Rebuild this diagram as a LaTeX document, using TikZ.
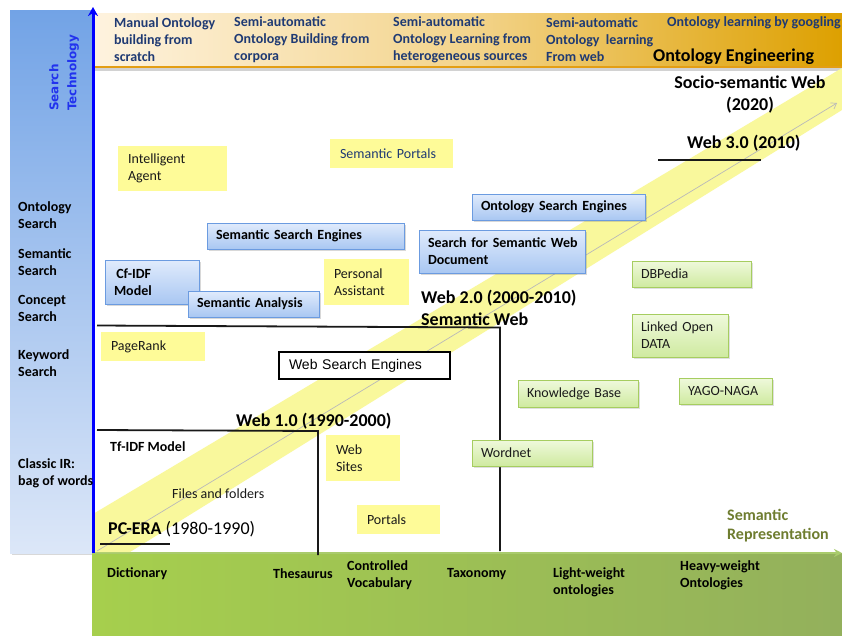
\documentclass[tikz,border=0pt]{standalone}
\usepackage{fontspec}
\setmainfont{Carlito}
\newfontfamily\arialf{Liberation Sans}
\newfontfamily\dejavuf{DejaVu Sans}
\usetikzlibrary{arrows.meta,shadows}

\definecolor{stickyY}{HTML}{FEFB98}
\definecolor{bandY}{HTML}{F9F89C}
\definecolor{navy}{HTML}{1F3A73}
\definecolor{olivec}{HTML}{6F7D30}
\definecolor{textgray}{HTML}{1A1A1A}
\definecolor{bTop}{HTML}{E0EBFC}
\definecolor{bBot}{HTML}{A9C7F2}
\definecolor{bBorder}{HTML}{6B9BE0}
\definecolor{gTop}{HTML}{EFF9DC}
\definecolor{gBot}{HTML}{CFEAA0}
\definecolor{gBorder}{HTML}{A6CD60}
\definecolor{leftTop}{HTML}{72A3E6}
\definecolor{leftBot}{HTML}{DCE7F8}
\definecolor{oL}{HTML}{FEF3DF}
\definecolor{oM}{HTML}{F3D48C}
\definecolor{oR}{HTML}{DDA000}
\definecolor{oLine}{HTML}{E39E14}
\definecolor{gL}{HTML}{A6CF4D}
\definecolor{gR}{HTML}{93B05C}
\definecolor{gArrow}{HTML}{A9CB6C}
\definecolor{stBlue}{HTML}{2233EE}

\begin{document}
\begin{tikzpicture}[x=1pt,y=-1pt,
  every node/.style={inner sep=0pt},
  fnt/.style={font=\fontsize{14}{17}\selectfont},
  bfnt/.style={font=\bfseries\fontsize{14}{17}\selectfont},
  big/.style={font=\bfseries\fontsize{18}{22}\selectfont},
  sticky/.style={fnt, fill=stickyY, inner xsep=10pt, align=left, text=textgray},
  bbox/.style={bfnt, draw=bBorder, line width=0.9pt, top color=bTop, bottom color=bBot,
    inner xsep=9pt, align=left, drop shadow={shadow xshift=1.5pt, shadow yshift=-1.5pt, opacity=.3}},
  gbox/.style={fnt, draw=gBorder, line width=0.9pt, top color=gTop, bottom color=gBot,
    inner xsep=9pt, align=left, text=textgray, drop shadow={shadow xshift=1.5pt, shadow yshift=-1.5pt, opacity=.25}},
  toplab/.style={bfnt, text=navy, anchor=west, align=left},
  sidelab/.style={bfnt, anchor=west, align=left},
  blackline/.style={line width=1.8pt, draw=black!90}
]
\useasboundingbox (0,0) rectangle (842,635);
\fill[white] (0,0) rectangle (842,635);

% left blue bar
\path[top color=leftTop, bottom color=leftBot,
  drop shadow={shadow xshift=2pt, shadow yshift=-2pt, opacity=.3}] (10,10) rectangle (92,553);
% top orange band
\path[left color=oL, right color=oR, middle color=oM] (93,13) rectangle (842,67);
\draw[line width=3pt, draw=gray, opacity=.35] (93,69.5) -- (842,69.5);
\draw[line width=2.5pt, draw=oLine] (93,67) -- (842,67);
% bottom green band
\path[left color=gL, right color=gR] (92,553) rectangle (842,635);
\coordinate (ga) at (92,553);
\coordinate (gb) at (842,553);
\draw[line width=2pt, draw=gArrow, -{Stealth[length=8pt,width=8pt]}] (ga) -- (gb);

% yellow diagonal band
\fill[bandY] (93,514) -- (842,68) -- (842,110) -- (130,552) -- (93,552) -- cycle;
\coordinate (ta) at (97,551);
\coordinate (tb) at (837,103);
\draw[draw=gray!55, line width=.7pt, -{Straight Barb[length=5pt,width=7pt]}] (ta) -- (tb);

% blue axis
\coordinate (axa) at (93,553);
\coordinate (axb) at (93,7);
\draw[line width=3pt, draw=blue, -{Stealth[length=9pt,width=10pt]}] (axa) -- (axb);

% black structure lines
\coordinate (l1a) at (97,325.5);
\coordinate (l1b) at (500,327.5);
\coordinate (l1c) at (500,551);
\draw[blackline] (l1a) -- (l1b) -- (l1c);
\coordinate (l2a) at (97,430);
\coordinate (l2b) at (318,431);
\coordinate (l2c) at (318,555);
\draw[blackline] (l2a) -- (l2b) -- (l2c);
\coordinate (u1a) at (100,544);
\coordinate (u1b) at (170,544);
\draw[line width=2pt, draw=black!90] (u1a) -- (u1b);
\coordinate (u2a) at (658,160);
\coordinate (u2b) at (761,160);
\draw[line width=2.5pt, draw=black!90] (u2a) -- (u2b);

% sticky notes
\node[sticky, minimum width=109pt, minimum height=45pt, text width=89pt] (agent) at (172.5,168.5) {Intelligent\\Agent};
\node[sticky, minimum width=123pt, minimum height=29pt, text width=103pt, text=navy] (sportals) at (391.5,153.5) {Semantic Portals};
\node[sticky, minimum width=85pt, minimum height=46pt, text width=65pt] (passist) at (366.5,282) {Personal\\Assistant};
\node[sticky, minimum width=104pt, minimum height=29pt, text width=84pt] (pagerank) at (153,346.5) {PageRank};
\node[sticky, minimum width=74pt, minimum height=46pt, text width=54pt] (websites) at (363,458) {Web\\Sites};
\node[sticky, minimum width=83pt, minimum height=29pt, text width=63pt] (portals) at (398.5,519.5) {Portals};

% blue boxes
\node[bbox, minimum width=197pt, minimum height=26pt, text width=179pt] (sse) at (305.5,236) {Semantic Search Engines};
\node[bbox, minimum width=94pt, minimum height=44pt, text width=76pt] (cfidf) at (152,282) {\,Cf-IDF\\Model};
\node[bbox, minimum width=131pt, minimum height=26pt, text width=113pt] (sana) at (253.5,304) {Semantic Analysis};
\node[bbox, minimum width=173pt, minimum height=26pt, text width=155pt] (ose) at (558.5,207) {Ontology Search Engines};
\node[bbox, minimum width=166pt, minimum height=43pt, text width=148pt] (sswd) at (502,251.5) {\mbox{Search for Semantic Web}\\Document};

% green boxes
\node[gbox, minimum width=119pt, minimum height=26pt, text width=101pt] (dbpedia) at (691.5,274) {DBPedia};
\node[gbox, minimum width=96pt, minimum height=43pt, text width=78pt] (lod) at (680,335.5) {Linked Open\\DATA};
\node[gbox, minimum width=120pt, minimum height=27pt, text width=102pt] (kb) at (578,393.5) {Knowledge Base};
\node[gbox, minimum width=93pt, minimum height=26pt, text width=75pt] (yago) at (725.5,391) {YAGO-NAGA};
\node[gbox, minimum width=120pt, minimum height=26pt, text width=102pt] (wordnet) at (532,453) {Wordnet};

% web search engines box
\node[draw=black, line width=1.8pt, fill=white, minimum width=171pt, minimum height=27pt,
  text width=151pt, inner xsep=10pt, align=left, font=\arialf\fontsize{14}{17}\selectfont] (wse) at (364.5,365.5) {Web Search Engines};

% era titles
\node[big, anchor=west] (web1) at (236,421) {Web 1.0 (1990-2000)};
\node[big, anchor=west, align=left] (web2) at (421,308) {Web 2.0 (2000-2010)\\Semantic Web};
\node[big, anchor=west] (web3) at (687,143) {Web 3.0 (2010)};
\node[big, align=center] (socio) at (750,95) {Socio-semantic Web\\(2020)};
\node[big, anchor=west] (pcera) at (108,529) {PC-ERA {\mdseries (1980-1990)}};
\node[big, anchor=west] (oeng) at (653,57) {Ontology Engineering};
\node[bfnt, anchor=west] (tfidf) at (110,447) {Tf-IDF Model};
\node[fnt, anchor=west, text=textgray] (files) at (172,494) {Files and folders};

% top labels
\node[toplab] (t1) at (114,40) {Manual Ontology\\building from\\scratch};
\node[toplab] (t2) at (234,40) {Semi-automatic\\Ontology Building from\\corpora};
\node[toplab] (t3) at (393,40) {Semi-automatic\\Ontology Learning from\\heterogeneous sources};
\node[toplab] (t4) at (546,40) {Semi-automatic\\Ontology\ \ learning\\From web};
\node[toplab] (t5) at (667,23) {Ontology learning by googling};

% search technology
\node[font=\dejavuf\bfseries\fontsize{12}{18}\selectfont, text=stBlue, rotate=90, anchor=west, align=left] (stech) at (64,111) {Search\\Technology};

% left labels
\node[sidelab] (s1) at (18,215) {Ontology\\Search};
\node[sidelab] (s2) at (18,262) {Semantic\\Search};
\node[sidelab] (s3) at (18,308) {Concept\\Search};
\node[sidelab] (s4) at (18,363) {Keyword\\Search};
\node[sidelab] (s5) at (18,473) {Classic IR:\\bag of words};

% bottom labels
\node[sidelab] (b1) at (107,574) {Dictionary};
\node[sidelab] (b2) at (273,574) {Thesaurus};
\node[sidelab] (b3) at (347,575) {Controlled\\Vocabulary};
\node[sidelab] (b4) at (447,574) {Taxonomy};
\node[sidelab] (b5) at (553,582) {Light-weight\\ontologies};
\node[sidelab] (b6) at (680,575) {Heavy-weight\\Ontologies};

\node[font=\bfseries\fontsize{16}{19}\selectfont, text=olivec, anchor=west, align=left] (semrep) at (727,525.5) {Semantic\\Representation};
\end{tikzpicture}
\end{document}
